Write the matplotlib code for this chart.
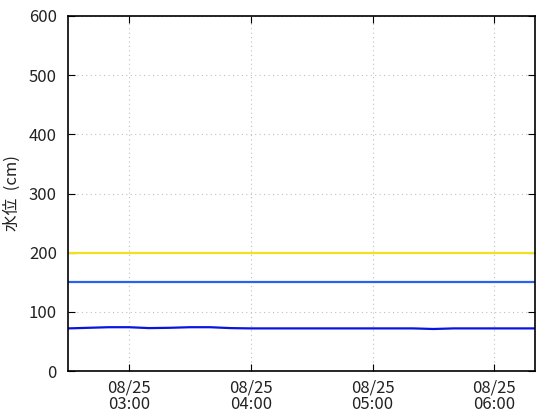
import numpy as np
import pandas as pd
import matplotlib
matplotlib.use("Agg")
import matplotlib.pyplot as plt
import matplotlib.dates as mdates

plt.rcParams['font.family'] = ['Liberation Sans Narrow', 'Noto Sans CJK JP', 'DejaVu Sans']

# water level, every 10 minutes from 02:30 to 06:20
times = pd.date_range("2023-08-25 02:30", "2023-08-25 06:20", freq="10min")
level = [72, 73, 74, 74, 72.5, 73, 74, 74, 72.5, 72, 72, 72,
         72, 72, 72, 72, 72, 72, 71, 72, 72, 72, 72, 72]
warn_level = 200   # yellow
base_level = 150   # blue

fig = plt.figure(figsize=(5.6, 4.2), dpi=100)
ax = fig.add_axes([68/560, 1-371/420, (535-68)/560, (371-16)/420])

ax.axhline(warn_level, color='#f0e020', linewidth=1.6)
ax.axhline(base_level, color='#2a62f0', linewidth=1.6)
ax.plot(times, level, color='#0a14e0', linewidth=1.6)

ax.set_xlim(times[0], times[-1])
ax.set_ylim(0, 600)
ax.set_yticks(range(0, 601, 100))
ax.xaxis.set_major_locator(mdates.HourLocator())
ax.xaxis.set_major_formatter(mdates.DateFormatter('%m/%d\n%H:%M'))

ax.grid(True, linestyle=(0, (1, 3)), color='#c0c0c0', linewidth=0.8)
ax.tick_params(direction='in', length=5, top=True, right=True,
               labelsize=12, colors='black', labelcolor='#222222')
ax.tick_params(axis='y', pad=8)
ax.tick_params(axis='x', pad=6)
for lab in ax.get_xticklabels():
    lab.set_linespacing(1.0)
for s in ax.spines.values():
    s.set_linewidth(1.2)

ax.set_ylabel('水位  (cm)', fontsize=12, color='#222222',
              family=['Noto Sans CJK JP', 'DejaVu Sans'])
ax.yaxis.set_label_coords(-47/467, 0.5)

fig.savefig('out.png', dpi=100)
